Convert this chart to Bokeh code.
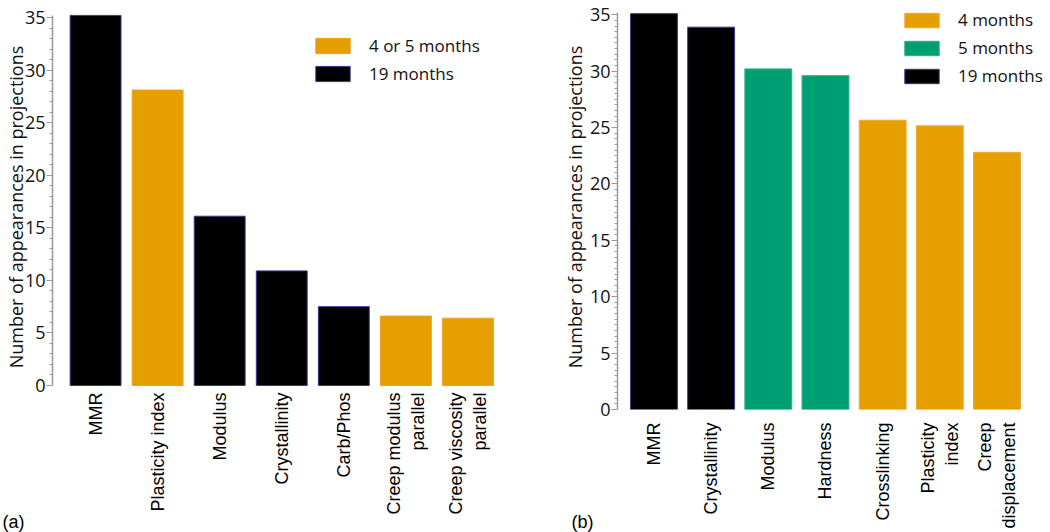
from math import pi
from bokeh.plotting import figure
from bokeh.models import ColumnDataSource, Range1d, Legend, LegendItem, Label, FixedTicker
from bokeh.layouts import row
from bokeh.embed import file_html
from bokeh.resources import INLINE

# ---- data ----
cats_a = ["MMR", "Plasticity index", "Modulus", "Crystallinity", "Carb/Phos",
          "Creep modulus\nparallel", "Creep viscosity\nparallel"]
vals_a = [35.2, 28.1, 16.1, 10.9, 7.5, 6.6, 6.4]
group_a = ["19 months", "4 or 5 months", "19 months", "19 months", "19 months",
           "4 or 5 months", "4 or 5 months"]
legend_a = ["4 or 5 months", "19 months"]

cats_b = ["MMR", "Crystallinity", "Modulus", "Hardness", "Crosslinking",
          "Plasticity\nindex", "Creep\ndisplacement"]
vals_b = [35.1, 33.9, 30.2, 29.6, 25.65, 25.15, 22.8]
group_b = ["19 months", "19 months", "5 months", "5 months", "4 months",
           "4 months", "4 months"]
legend_b = ["4 months", "5 months", "19 months"]

y_ticks = [0, 5, 10, 15, 20, 25, 30, 35]

FILL = {"4 or 5 months": "#E69F00", "4 months": "#E69F00", "5 months": "#009E73", "19 months": "#000000"}
LINE = {"4 or 5 months": "#F0A020", "4 months": "#F2A830", "5 months": "#2FB07F", "19 months": "#3A3A90"}

TICK_FONT = "Open Sans"
CAT_FONT = "Liberation Sans"
H = 532
TOP = 4
BOTTOM = 123


def make_panel(cats, vals, groups, legend_order, width, xr, yr, ybounds,
               border_left, border_right, minor, label_standoff, ylabel_standoff,
               leg_loc, leg_glyph_h, leg_spacing, leg_standoff, tag, tag_x, tag_y, tag_side):
    pos = list(range(len(cats)))
    p = figure(width=width, height=H, output_backend="svg", toolbar_location=None,
               x_range=Range1d(*xr), y_range=Range1d(*yr),
               min_border_left=border_left, min_border_right=border_right,
               min_border_top=TOP, min_border_bottom=BOTTOM)
    p.outline_line_color = None
    p.grid.visible = False

    items = []
    for g in legend_order:
        idx = [i for i, gg in enumerate(groups) if gg == g]
        src = ColumnDataSource(dict(x=[pos[i] for i in idx], top=[vals[i] for i in idx]))
        r = p.vbar(x="x", top="top", bottom=0, width=0.82, source=src, fill_color=FILL[g],
                   line_color=LINE[g], line_width=1)
        items.append(LegendItem(label=g, renderers=[r]))

    leg = Legend(items=items, location=leg_loc, padding=0, margin=0,
                 border_line_color=None, background_fill_alpha=0,
                 glyph_width=43, glyph_height=leg_glyph_h, label_height=leg_glyph_h,
                 spacing=leg_spacing, label_standoff=leg_standoff,
                 label_text_font=TICK_FONT, label_text_font_size="17px",
                 label_text_color="#111111")
    p.add_layout(leg)

    ya = p.yaxis[0]
    ya.ticker = FixedTicker(ticks=y_ticks, minor_ticks=[v / minor for v in range(0, 35 * minor + 1)])
    ya.bounds = ybounds
    ya.axis_line_color = "#9a9a9a"
    ya.axis_line_width = 1.5
    ya.major_tick_line_color = "#9a9a9a"
    ya.minor_tick_line_color = "#9a9a9a"
    ya.major_tick_out = 6
    ya.major_tick_in = 0
    ya.minor_tick_out = 3
    ya.minor_tick_in = 0
    ya.major_label_standoff = 1
    ya.major_label_text_font = TICK_FONT
    ya.major_label_text_font_size = "18px"
    ya.major_label_text_color = "#111111"
    ya.axis_label = "Number of appearances in projections"
    ya.axis_label_text_font = TICK_FONT
    ya.axis_label_text_font_size = "18px"
    ya.axis_label_text_font_style = "normal"
    ya.axis_label_text_color = "#111111"
    ya.axis_label_standoff = ylabel_standoff

    xa = p.xaxis[0]
    xa.ticker = FixedTicker(ticks=pos)
    xa.major_label_overrides = {i: c for i, c in zip(pos, cats)}
    xa.axis_line_color = None
    xa.major_tick_line_color = None
    xa.minor_tick_line_color = None
    xa.major_tick_out = 0
    xa.major_tick_in = 0
    xa.major_label_orientation = pi / 2
    xa.major_label_standoff = label_standoff
    xa.major_label_text_font = CAT_FONT
    xa.major_label_text_font_size = "18px"
    xa.major_label_text_color = "#000000"

    p.add_layout(Label(x=tag_x, y=tag_y, x_units="screen", y_units="screen", text=tag,
                       text_font=CAT_FONT, text_font_size="18px", text_color="#000000"),
                 tag_side)
    return p


p1 = make_panel(cats_a, vals_a, group_a, legend_a, width=520,
                xr=(-0.694, 6.4926), yr=(-2.283, 36.236), ybounds=(0, 35.2),
                border_left=50, border_right=0, minor=1, label_standoff=-17, ylabel_standoff=-6,
                leg_loc=(259, 324), leg_glyph_h=19, leg_spacing=5, leg_standoff=15,
                tag="(a)", tag_x=-496, tag_y=-122, tag_side="right")

p2 = make_panel(cats_b, vals_b, group_b, legend_b, width=530,
                xr=(-0.638, 6.936), yr=(0, 35.91), ybounds=(0, 35.2),
                border_left=97, border_right=0, minor=2, label_standoff=13, ylabel_standoff=0,
                leg_loc=(283, 322), leg_glyph_h=18, leg_spacing=5, leg_standoff=15,
                tag="(b)", tag_x=34, tag_y=-122, tag_side="left")

layout = row(p1, p2)
open("out.html", "w").write(file_html(layout, INLINE))
